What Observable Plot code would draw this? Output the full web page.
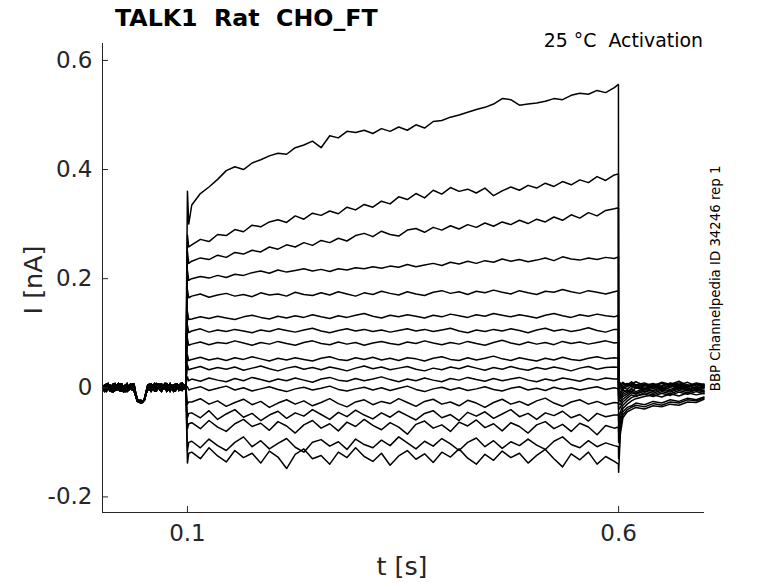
<!DOCTYPE html>
<html><head><meta charset="utf-8">
<script src="https://cdn.jsdelivr.net/npm/d3@7"></script>
<script src="https://cdn.jsdelivr.net/npm/@observablehq/plot@0.6"></script>
<style>
html,body{margin:0;padding:0;background:#fff;}
#chart{position:relative;width:778px;height:583px;}
</style></head><body><div id="chart"></div>
<script>
// ---- axes ----
const xDomain = [0.0015, 0.6996];
const yDomain = [-0.2286, 0.631];
const xTicks = [0.1, 0.6];
const xTickLabels = ["0.1", "0.6"];
const yTicks = [-0.2, 0, 0.2, 0.4, 0.6];
const yTickLabels = ["-0.2", "0", "0.2", "0.4", "0.6"];

// ---- sample times [s] ----
const preTimes = d3.range(49).map(i => 0.002 + 0.002 * i);      // 0.002 … 0.098
const pulseTimes = d3.range(50).map(k => 0.105 + 0.01 * k);      // 0.105 … 0.595
const tailTimes = [0.6, 0.602, 0.605, 0.61, 0.615, 0.62, 0.63, 0.64, 0.65, 0.66, 0.67, 0.68, 0.69, 0.699];

// ---- holding baseline before the step [nA] ----
const preA = [0.004,-0.006,0.007,-0.002,0.005,-0.007,0.002,0.008,-0.004,0.003,-0.006,0.007,0,-0.007,0.005,-0.002,0.007,-0.004,0.002,
  -0.012,-0.022,-0.026,-0.023,-0.027,-0.021,-0.008,
  0.005,-0.004,0.007,0,-0.006,0.008,0.002,-0.004,0.007,-0.002,0.005,-0.007,0.003,0.008,-0.002,0.005,-0.006,0.007,0.002,-0.004,0.008,0,0.005];
const preB = [-0.004,0.005,-0.007,0.002,-0.006,0.004,-0.008,0,0.005,-0.004,0.007,-0.006,0.002,0.005,-0.007,0.004,-0.002,0.007,-0.005,
  -0.015,-0.025,-0.023,-0.028,-0.024,-0.023,-0.010,
  -0.004,0.004,-0.007,0.005,0.002,-0.006,0.007,-0.002,-0.007,0.004,0.008,-0.004,0.002,-0.007,0.005,0,-0.004,0.007,-0.005,0.004,0.009,-0.002,0.004];
const preC = [0,-0.007,0.004,0.008,-0.004,0.002,0.007,-0.005,0.004,0.008,-0.002,0.002,-0.008,0.004,0.008,-0.005,0.004,0.002,0.007,
  -0.010,-0.021,-0.027,-0.024,-0.026,-0.023,-0.012,
  0.002,0.007,-0.005,0.004,0.008,-0.004,0,0.007,-0.005,0.004,-0.002,0.008,-0.004,0.005,0.002,-0.007,0.007,0.004,-0.002,0.008,-0.005,0.005,0.002];

// ---- onset transient at t = 0.1 s, and end of step [nA] ----
const onsetPeak = [0.36,0.28,0.25,0.215,0.18,0.14,0.115,0.09,0.06,0.042,0.02,0.002,-0.03,-0.055,-0.075,-0.115,-0.138];
const onsetDip  = [0.30,0.258,0.228,0.197,0.165,0.125,0.101,0.078,0.05,0.033,0.013,-0.004,-0.026,-0.047,-0.066,-0.1,-0.12];
const endPeak   = [0.556,0.392,0.33,0.24,0.178,0.133,0.107,0.083,0.054,0.037,0.016,-0.002,-0.028,-0.05,-0.072,-0.108,-0.14];

// ---- currents during the step [nA] ----
const trace01 = [0.335,0.356,0.368,0.382,0.398,0.405,0.400,0.412,0.418,0.425,
  0.430,0.428,0.440,0.445,0.452,0.440,0.462,0.458,0.470,0.468,
  0.472,0.466,0.475,0.470,0.478,0.472,0.482,0.476,0.488,0.490,
  0.496,0.500,0.505,0.510,0.514,0.520,0.530,0.528,0.518,0.520,
  0.522,0.525,0.530,0.528,0.536,0.540,0.538,0.545,0.541,0.550];
const trace02 = [0.262,0.272,0.268,0.281,0.279,0.290,0.286,0.298,0.295,0.304,
  0.308,0.303,0.315,0.309,0.320,0.316,0.324,0.319,0.331,0.326,
  0.336,0.331,0.342,0.337,0.350,0.345,0.356,0.348,0.362,0.355,
  0.367,0.360,0.364,0.357,0.366,0.352,0.361,0.368,0.362,0.371,
  0.366,0.375,0.369,0.378,0.372,0.381,0.376,0.387,0.380,0.390];
const trace03 = [0.232,0.238,0.235,0.243,0.239,0.248,0.245,0.252,0.249,0.258,
  0.254,0.262,0.258,0.266,0.261,0.270,0.266,0.274,0.269,0.279,
  0.283,0.277,0.287,0.281,0.278,0.289,0.292,0.285,0.294,0.289,
  0.297,0.291,0.299,0.294,0.302,0.296,0.304,0.299,0.307,0.301,
  0.309,0.304,0.313,0.307,0.317,0.311,0.321,0.315,0.325,0.328];
const trace04 = [0.200,0.204,0.201,0.206,0.202,0.208,0.206,0.211,0.214,0.210,
  0.216,0.212,0.215,0.218,0.214,0.217,0.213,0.218,0.216,0.220,
  0.218,0.222,0.219,0.223,0.221,0.226,0.222,0.225,0.228,0.224,
  0.230,0.227,0.232,0.228,0.233,0.230,0.236,0.232,0.235,0.231,
  0.234,0.238,0.233,0.240,0.236,0.234,0.238,0.235,0.239,0.237];
const trace05 = [0.168,0.172,0.166,0.170,0.173,0.168,0.171,0.167,0.174,0.170,
  0.172,0.168,0.175,0.171,0.169,0.174,0.170,0.176,0.172,0.168,
  0.174,0.171,0.177,0.173,0.170,0.176,0.172,0.169,0.175,0.178,
  0.173,0.176,0.171,0.177,0.174,0.179,0.175,0.172,0.178,0.174,
  0.171,0.177,0.175,0.180,0.176,0.173,0.178,0.175,0.172,0.176];
const trace06 = [0.126,0.130,0.127,0.131,0.128,0.125,0.130,0.133,0.129,0.126,
  0.131,0.128,0.132,0.129,0.134,0.130,0.127,0.132,0.129,0.133,
  0.136,0.131,0.128,0.133,0.130,0.134,0.131,0.128,0.133,0.130,
  0.135,0.132,0.129,0.134,0.131,0.136,0.133,0.130,0.134,0.131,
  0.128,0.133,0.136,0.132,0.129,0.134,0.131,0.135,0.132,0.130];
const trace07 = [0.104,0.108,0.102,0.106,0.103,0.107,0.104,0.101,0.106,0.103,
  0.108,0.105,0.102,0.106,0.109,0.104,0.101,0.105,0.108,0.104,
  0.107,0.103,0.106,0.102,0.105,0.108,0.104,0.107,0.103,0.106,
  0.109,0.104,0.101,0.106,0.103,0.107,0.104,0.108,0.105,0.101,
  0.106,0.109,0.104,0.107,0.103,0.106,0.110,0.105,0.102,0.107];
const trace08 = [0.080,0.084,0.079,0.083,0.081,0.086,0.082,0.078,0.083,0.080,
  0.085,0.081,0.078,0.083,0.086,0.081,0.079,0.084,0.080,0.083,
  0.078,0.082,0.085,0.081,0.079,0.084,0.081,0.086,0.082,0.079,
  0.083,0.080,0.085,0.081,0.078,0.083,0.087,0.082,0.079,0.084,
  0.080,0.083,0.079,0.085,0.081,0.084,0.080,0.083,0.086,0.082];
const trace09 = [0.052,0.056,0.051,0.054,0.050,0.055,0.052,0.057,0.053,0.049,
  0.054,0.051,0.055,0.052,0.049,0.054,0.057,0.052,0.050,0.055,
  0.052,0.056,0.051,0.054,0.050,0.055,0.053,0.049,0.054,0.057,
  0.052,0.050,0.055,0.051,0.054,0.058,0.053,0.050,0.055,0.052,
  0.049,0.054,0.051,0.056,0.052,0.050,0.054,0.057,0.053,0.055];
const trace10 = [0.035,0.039,0.033,0.037,0.034,0.038,0.032,0.036,0.040,0.035,
  0.031,0.036,0.039,0.034,0.037,0.033,0.038,0.035,0.031,0.036,
  0.040,0.035,0.038,0.033,0.036,0.039,0.034,0.031,0.036,0.033,
  0.038,0.035,0.040,0.036,0.032,0.037,0.034,0.039,0.035,0.032,
  0.037,0.034,0.038,0.035,0.031,0.036,0.039,0.034,0.037,0.038];
const trace11 = [0.016,0.012,0.018,0.014,0.011,0.017,0.013,0.019,0.015,0.011,
  0.016,0.013,0.018,0.014,0.010,0.016,0.019,0.014,0.012,0.017,
  0.013,0.016,0.020,0.015,0.011,0.016,0.013,0.018,0.014,0.011,
  0.017,0.014,0.019,0.015,0.012,0.017,0.013,0.016,0.019,0.014,
  0.011,0.016,0.013,0.018,0.015,0.012,0.017,0.014,0.018,0.016];
const trace12 = [-0.002,0.002,-0.005,-0.001,0.003,-0.004,0.000,-0.006,-0.002,0.002,
  -0.003,-0.007,-0.002,0.001,-0.004,-0.001,0.003,-0.003,-0.006,-0.002,
  0.001,-0.004,0.000,-0.005,-0.001,0.003,-0.003,-0.007,-0.002,0.001,
  -0.004,0.000,-0.005,-0.002,0.002,-0.003,-0.006,-0.001,0.002,-0.004,
  -0.001,-0.005,0.001,-0.003,0.000,-0.004,-0.001,0.002,-0.003,0.000];
const trace13 = [-0.026,-0.020,-0.030,-0.024,-0.034,-0.027,-0.021,-0.031,-0.025,-0.036,
  -0.028,-0.022,-0.030,-0.024,-0.033,-0.027,-0.020,-0.029,-0.035,-0.026,
  -0.022,-0.031,-0.025,-0.029,-0.020,-0.027,-0.034,-0.025,-0.021,-0.030,
  -0.026,-0.033,-0.023,-0.028,-0.036,-0.027,-0.021,-0.030,-0.025,-0.032,
  -0.024,-0.019,-0.028,-0.034,-0.026,-0.022,-0.030,-0.025,-0.031,-0.027];
const trace14 = [-0.046,-0.055,-0.042,-0.058,-0.048,-0.040,-0.054,-0.047,-0.060,-0.050,
  -0.043,-0.056,-0.046,-0.052,-0.040,-0.049,-0.058,-0.045,-0.053,-0.041,
  -0.050,-0.057,-0.046,-0.054,-0.043,-0.051,-0.059,-0.047,-0.042,-0.055,
  -0.049,-0.060,-0.045,-0.052,-0.044,-0.056,-0.048,-0.040,-0.053,-0.047,
  -0.058,-0.046,-0.051,-0.043,-0.055,-0.049,-0.061,-0.047,-0.053,-0.050];
const trace15 = [-0.064,-0.075,-0.060,-0.072,-0.080,-0.066,-0.058,-0.071,-0.065,-0.078,
  -0.062,-0.070,-0.083,-0.068,-0.060,-0.074,-0.066,-0.079,-0.063,-0.071,
  -0.058,-0.069,-0.077,-0.064,-0.072,-0.085,-0.067,-0.061,-0.074,-0.068,
  -0.080,-0.063,-0.070,-0.059,-0.073,-0.066,-0.079,-0.064,-0.071,-0.083,
  -0.068,-0.062,-0.075,-0.067,-0.080,-0.065,-0.072,-0.086,-0.069,-0.074];
const trace16 = [-0.098,-0.110,-0.094,-0.106,-0.115,-0.100,-0.090,-0.108,-0.097,-0.112,
  -0.102,-0.093,-0.109,-0.118,-0.100,-0.095,-0.107,-0.099,-0.113,-0.094,
  -0.104,-0.110,-0.096,-0.106,-0.090,-0.101,-0.112,-0.098,-0.107,-0.093,
  -0.103,-0.115,-0.100,-0.092,-0.108,-0.097,-0.111,-0.099,-0.106,-0.094,
  -0.105,-0.113,-0.098,-0.090,-0.104,-0.110,-0.097,-0.108,-0.101,-0.106];
const trace17 = [-0.118,-0.130,-0.110,-0.125,-0.136,-0.115,-0.128,-0.120,-0.138,-0.116,
  -0.127,-0.148,-0.122,-0.112,-0.130,-0.124,-0.140,-0.118,-0.128,-0.110,
  -0.126,-0.135,-0.120,-0.142,-0.125,-0.115,-0.131,-0.121,-0.137,-0.118,
  -0.127,-0.112,-0.129,-0.140,-0.122,-0.133,-0.116,-0.128,-0.120,-0.138,
  -0.124,-0.113,-0.130,-0.145,-0.121,-0.132,-0.118,-0.140,-0.126,-0.135];
const pulseTraces = [trace01,trace02,trace03,trace04,trace05,trace06,trace07,trace08,trace09,
  trace10,trace11,trace12,trace13,trace14,trace15,trace16,trace17];

// ---- tail currents after the step [nA] ----
const tailValues = [
  [0.012,0.006,0.010,0.004,0.011,0.005,0.009,0.003,0.010,0.006,0.012,0.004,0.009,0.006],
  [0.008,0.003,0.009,0.002,0.007,0.011,0.004,0.008,0.002,0.009,0.005,0.010,0.003,0.007],
  [0.005,0.009,0.001,0.006,0.010,0.003,0.007,0.001,0.008,0.004,0.009,0.002,0.007,0.005],
  [0.003,-0.002,0.005,0.008,0.002,0.006,-0.001,0.005,0.009,0.003,0.006,0.000,0.007,0.004],
  [0.000,0.004,-0.003,0.003,0.007,0.001,0.005,-0.002,0.004,0.008,0.002,0.005,-0.001,0.003],
  [-0.004,-0.008,0.001,-0.003,0.004,-0.001,0.003,0.006,0.000,0.004,-0.002,0.003,0.006,0.001],
  [-0.008,-0.012,-0.004,-0.008,-0.001,0.002,-0.003,0.003,-0.001,0.004,0.000,0.005,-0.002,0.002],
  [-0.012,-0.016,-0.009,-0.004,-0.008,0.000,-0.004,0.002,-0.003,0.001,0.005,-0.002,0.002,0.000],
  [-0.016,-0.020,-0.012,-0.008,-0.003,-0.007,-0.001,-0.005,0.001,-0.003,0.002,-0.004,0.001,-0.002],
  [-0.020,-0.025,-0.016,-0.011,-0.006,-0.010,-0.003,-0.007,-0.002,-0.006,0.000,-0.004,-0.001,-0.005],
  [-0.030,-0.030,-0.021,-0.015,-0.009,-0.012,-0.006,-0.010,-0.004,-0.008,-0.002,-0.006,-0.003,-0.007],
  [-0.040,-0.036,-0.026,-0.019,-0.013,-0.016,-0.009,-0.013,-0.007,-0.011,-0.005,-0.009,-0.004,-0.008],
  [-0.060,-0.045,-0.032,-0.024,-0.018,-0.015,-0.012,-0.016,-0.010,-0.014,-0.008,-0.012,-0.007,-0.011],
  [-0.080,-0.055,-0.038,-0.030,-0.024,-0.020,-0.016,-0.013,-0.017,-0.011,-0.015,-0.009,-0.013,-0.010],
  [-0.100,-0.065,-0.044,-0.036,-0.033,-0.028,-0.031,-0.025,-0.028,-0.022,-0.025,-0.019,-0.022,-0.017],
  [-0.130,-0.075,-0.050,-0.040,-0.036,-0.032,-0.035,-0.029,-0.032,-0.026,-0.028,-0.022,-0.024,-0.019],
  [-0.155,-0.085,-0.055,-0.044,-0.040,-0.036,-0.039,-0.033,-0.035,-0.030,-0.032,-0.026,-0.027,-0.021]
];
const preSets = [preA, preB, preC];

// ---- assemble rows (one sweep per step) ----
const rows = [];
pulseTraces.forEach((vals, i) => {
  const pre = preSets[i % 3];
  preTimes.forEach((t, j) => rows.push({trace: i, t, v: pre[j]}));
  rows.push({trace: i, t: 0.1, v: onsetPeak[i]});
  rows.push({trace: i, t: 0.1015, v: onsetDip[i]});
  pulseTimes.forEach((t, k) => rows.push({trace: i, t, v: vals[k]}));
  rows.push({trace: i, t: 0.5998, v: endPeak[i]});
  tailTimes.forEach((t, k) => rows.push({trace: i, t, v: tailValues[i][k]}));
});

const ink = "#262626";
const plot = Plot.plot({
  width: 778,
  height: 583,
  marginLeft: 102,
  marginRight: 74,
  marginTop: 43,
  marginBottom: 71,
  style: {fontFamily: "DejaVu Sans", fontSize: "23px", color: ink, background: "#fff"},
  x: {domain: xDomain},
  y: {domain: yDomain},
  marks: [
    Plot.line(rows, {x: "t", y: "v", z: "trace", stroke: "#000", strokeWidth: 1.5, strokeLinejoin: "round"}),
    Plot.ruleX([xDomain[0]], {stroke: ink, strokeWidth: 1}),
    Plot.ruleY([yDomain[0]], {stroke: ink, strokeWidth: 1}),
    Plot.axisY(yTicks, {anchor: "left", tickSize: -6, tickPadding: 16, fontSize: 23, label: null,
      tickFormat: d => yTickLabels[yTicks.indexOf(d)]}),
    Plot.axisX(xTicks, {anchor: "bottom", tickSize: -6, tickPadding: 18.5, fontSize: 23, label: null,
      tickFormat: d => xTickLabels[xTicks.indexOf(d)]})
  ]
});
document.getElementById("chart").appendChild(plot);

const svg = d3.select(plot);
const txt = (x, y, s, o = {}) => {
  const t = svg.append("text")
    .attr("x", x).attr("y", y)
    .attr("font-family", "DejaVu Sans")
    .attr("font-size", o.size || 20)
    .attr("font-weight", o.weight || "normal")
    .attr("fill", o.fill || "#000")
    .attr("text-anchor", o.anchor || "start")
    .style("white-space", "pre")
    .text(s);
  if (o.rotate) t.attr("transform", `rotate(${o.rotate},${x},${y})`);
  return t;
};
txt(115, 26, "TALK1  Rat  CHO_FT", {size: 23.7, weight: "bold"});
txt(703, 47, "25 °C  Activation", {size: 18.9, anchor: "end"});
txt(720, 278.4, "BBP Channelpedia ID 34246 rep 1", {size: 13.3, anchor: "middle", rotate: -90});
txt(42, 280, "I [nA]", {size: 25.4, anchor: "middle", rotate: -90, fill: ink});
txt(402, 575, "t [s]", {size: 25.4, anchor: "middle", fill: ink});
</script></body></html>
